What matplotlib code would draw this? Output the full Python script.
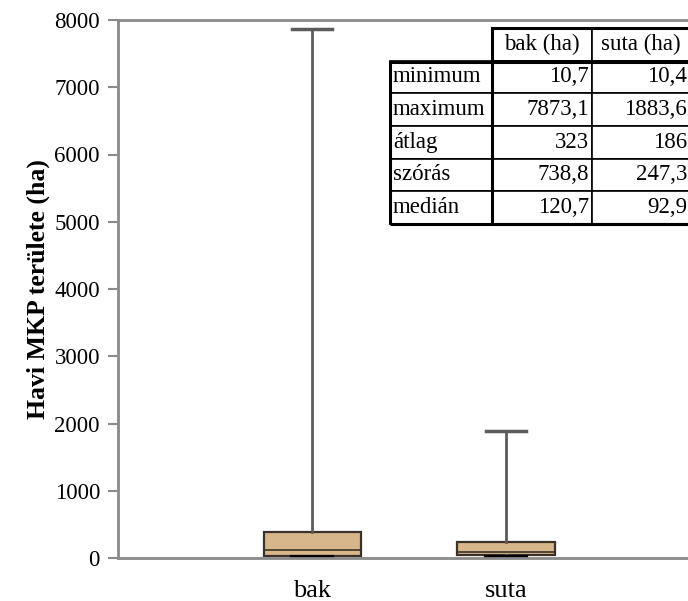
import matplotlib
matplotlib.use("Agg")
import matplotlib.pyplot as plt
from matplotlib.patches import Rectangle

plt.rcParams["font.family"] = ["Liberation Serif", "DejaVu Serif"]

# ---- data ---------------------------------------------------
groups = ["bak", "suta"]
minimum = [10.7, 10.4]
q1 = [35, 45]
median = [120.7, 92.9]
q3 = [385, 235]
maximum = [7873.1, 1883.6]

row_labels = ["minimum", "maximum", "átlag", "szórás", "medián"]
col_labels = ["bak (ha)", "suta (ha)"]
bak_stats = ["10,7", "7873,1", "323", "738,8", "120,7"]
suta_stats = ["10,4", "1883,6", "186", "247,3", "92,9"]

BOX_FILL = "#D8B68B"
BOX_EDGE = "#3a3228"
WHISK = "#5c5c5c"
SPINE = "#8a8a8a"

fig = plt.figure(figsize=(6.88, 6.01), dpi=100)
ax = fig.add_axes([118 / 688, 43 / 601, 1 - 118 / 688, 538 / 601])

stats = []
for i, g in enumerate(groups):
    stats.append(dict(label=g, whislo=minimum[i], q1=q1[i], med=median[i],
                      q3=q3[i], whishi=maximum[i], fliers=[]))

parts = ax.bxp(stats, positions=[1, 2], widths=0.5, patch_artist=True,
               boxprops=dict(facecolor=BOX_FILL, edgecolor=BOX_EDGE, linewidth=1.6),
               medianprops=dict(color=BOX_EDGE, linewidth=1.2),
               whiskerprops=dict(color=WHISK, linewidth=2),
               capprops=dict(color=WHISK, linewidth=2.5), capwidths=0.21,
               showfliers=False)
# lower caps are black in the reference
for cap in parts["caps"][0::2]:
    cap.set_color("black")
    cap.set_linewidth(3)

ax.set_xlim(0, 570 / 194)
ax.set_ylim(0, 8000)
ax.set_yticks(range(0, 8001, 1000))
ax.tick_params(axis="y", labelsize=16.5, direction="out", length=7, width=1.5,
               color=SPINE, pad=6)
ax.tick_params(axis="x", labelsize=19, length=0, pad=16)
ax.set_ylabel("Havi MKP területe (ha)", fontsize=18.5, fontweight="bold", labelpad=3)

for s in ["left", "bottom", "top"]:
    ax.spines[s].set_color(SPINE)
    ax.spines[s].set_linewidth(2)
ax.spines["right"].set_visible(False)

# ---- summary table ------------------------------------------
cells = [[r, b, s] for r, b, s in zip(row_labels, bak_stats, suta_stats)]
tbl = ax.table(cellText=cells, colLabels=[""] + col_labels,
               bbox=[272 / 570, (558 - 224) / 538, 300 / 570, 196 / 538],
               colWidths=[0.34, 0.333, 0.327])
tbl.auto_set_font_size(False)
tbl.set_fontsize(16.5)
for (r, c), cell in tbl.get_celld().items():
    cell.set_linewidth(1.2)
    cell.set_edgecolor("black")
    cell.PAD = 0.03
    txt = cell.get_text()
    txt.set_fontfamily(["Liberation Serif", "DejaVu Serif"])
    if r == 0:
        txt.set_ha("center")
        if c == 0:
            cell.visible_edges = ""
    elif c == 0:
        txt.set_ha("left")
        cell._loc = "left"
    else:
        txt.set_ha("right")
        cell._loc = "right"

# thick outer border of table body
ax.add_patch(Rectangle((272 / 570, (558 - 224) / 538), 300 / 570, (224 - 62) / 538,
                       transform=ax.transAxes, fill=False, edgecolor="black",
                       linewidth=2.2, clip_on=False, zorder=10))
ax.add_patch(Rectangle((272 / 570 + 0.34 * 300 / 570, (558 - 224) / 538),
                       0.66 * 300 / 570, (224 - 28) / 538,
                       transform=ax.transAxes, fill=False, edgecolor="black",
                       linewidth=2.2, clip_on=False, zorder=10))

fig.savefig("out.png", dpi=100)
